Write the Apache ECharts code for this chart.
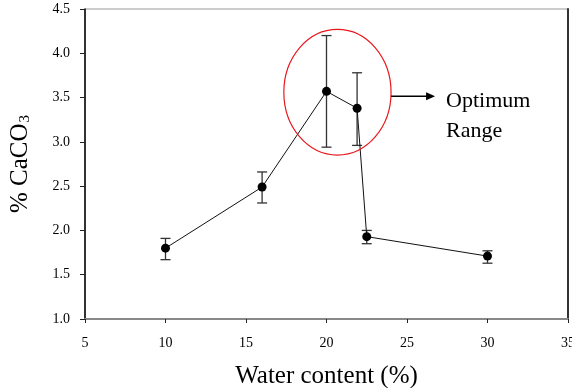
<!DOCTYPE html>
<html>
<head>
<meta charset="utf-8">
<script src="https://cdn.jsdelivr.net/npm/echarts@6/dist/echarts.min.js"></script>
<style>
  html, body { margin: 0; padding: 0; background: #fff; }
  #container { width: 572px; height: 388px; }
</style>
</head>
<body>
<div id="container"></div>
<script type="text/javascript">
    // water content (%) and mean % CaCO3 with error bar ends
    var waterContent = [10, 16, 20, 21.9, 22.5, 30];
    var caco3 = [1.80, 2.49, 3.57, 3.38, 1.93, 1.71];
    var errLow = [1.67, 2.31, 2.94, 2.96, 1.85, 1.63];
    var errHigh = [1.91, 2.66, 4.20, 3.78, 2.00, 1.77];
    // optimum range ellipse: centre x, centre y, half width, half height (data units)
    var optimumEllipse = [20.68, 3.56, 3.33, 0.71];
    var annotationText = 'Optimum\nRange';

    var serif = '"Liberation Serif", "Times New Roman", serif';

    var points = [];
    var bars = [];
    for (var i = 0; i < waterContent.length; i++) {
        points.push([waterContent[i], caco3[i]]);
        bars.push([waterContent[i], errLow[i], errHigh[i]]);
    }

    var dom = document.getElementById("container");
    var myChart = echarts.init(dom);
    var option = {
        animation: false,
        backgroundColor: '#fff',
        grid: {
            left: 85,
            right: 4,
            top: 9,
            bottom: 69,
            outerBoundsMode: 'none',
            containLabel: false,
            show: true,
            borderColor: '#999',
            borderWidth: 1
        },
        xAxis: {
            type: 'value',
            min: 5,
            max: 35,
            interval: 5,
            name: 'Water content (%)',
            nameLocation: 'middle',
            nameGap: 45,
            nameTextStyle: { fontFamily: serif, fontSize: 25, color: '#000' },
            axisLine: { lineStyle: { color: '#888', width: 2 } },
            axisTick: { inside: false, length: 4, lineStyle: { color: '#222' } },
            axisLabel: { fontFamily: serif, fontSize: 14, color: '#000', margin: 17 },
            splitLine: { show: false }
        },
        yAxis: [{
            type: 'value',
            min: 1,
            max: 4.5,
            interval: 0.5,
            name: '% CaCO{sub|3}',
            nameLocation: 'middle',
            nameRotate: 90,
            nameGap: 52,
            nameTextStyle: {
                fontFamily: serif, fontSize: 25, color: '#000',
                rich: { sub: { fontFamily: serif, fontSize: 15, color: '#000', verticalAlign: 'bottom', padding: [10, 0, 0, 1] } }
            },
            axisLine: { lineStyle: { color: '#000', width: 1.5 } },
            axisTick: { inside: false, length: 5, lineStyle: { color: '#222' } },
            axisLabel: {
                fontFamily: serif, fontSize: 14, color: '#000', margin: 15,
                formatter: function (v) { return v.toFixed(1); }
            },
            splitLine: { show: false }
        }, {
            type: 'value',
            position: 'right',
            min: 1,
            max: 4.5,
            axisLine: { show: true, lineStyle: { color: '#333', width: 2 } },
            axisTick: { show: false },
            axisLabel: { show: false },
            splitLine: { show: false }
        }],
        series: [{
            // error bars
            type: 'custom',
            z: 2,
            data: bars,
            renderItem: function (params, api) {
                var lo = api.coord([api.value(0), api.value(1)]);
                var hi = api.coord([api.value(0), api.value(2)]);
                var w = 5;
                var style = { stroke: '#333', lineWidth: 1.3 };
                return {
                    type: 'group',
                    children: [
                        { type: 'line', shape: { x1: lo[0], y1: lo[1], x2: hi[0], y2: hi[1] }, style: style },
                        { type: 'line', shape: { x1: lo[0] - w, y1: lo[1], x2: lo[0] + w, y2: lo[1] }, style: style },
                        { type: 'line', shape: { x1: hi[0] - w, y1: hi[1], x2: hi[0] + w, y2: hi[1] }, style: style }
                    ]
                };
            }
        }, {
            type: 'line',
            z: 3,
            data: points,
            symbol: 'circle',
            symbolSize: 9,
            itemStyle: { color: '#000' },
            lineStyle: { color: '#111', width: 1 }
        }, {
            // red ellipse, arrow and label
            type: 'custom',
            z: 4,
            clip: false,
            data: [optimumEllipse],
            renderItem: function (params, api) {
                var c = api.coord([api.value(0), api.value(1)]);
                var e = api.coord([api.value(0) + api.value(2), api.value(1) + api.value(3)]);
                var rx = e[0] - c[0];
                var ry = c[1] - e[1];
                var ax0 = c[0] + rx;
                var ay = c[1] + 4;
                var ax1 = ax0 + 44;
                return {
                    type: 'group',
                    children: [
                        { type: 'ellipse', shape: { cx: c[0], cy: c[1], rx: rx, ry: ry },
                          style: { fill: 'none', stroke: '#e8181e', lineWidth: 1.2 } },
                        { type: 'line', shape: { x1: ax0, y1: ay, x2: ax1 - 6, y2: ay },
                          style: { stroke: '#000', lineWidth: 1.3 } },
                        { type: 'polygon', shape: { points: [[ax1, ay], [ax1 - 9, ay - 4], [ax1 - 9, ay + 4]] },
                          style: { fill: '#000' } },
                        { type: 'text', x: ax1 + 11, y: ay - 10,
                          style: { text: annotationText, fill: '#000', font: '22px ' + serif, lineHeight: 30 } }
                    ]
                };
            }
        }]
    };
    myChart.setOption(option);
</script>
</body>
</html>
